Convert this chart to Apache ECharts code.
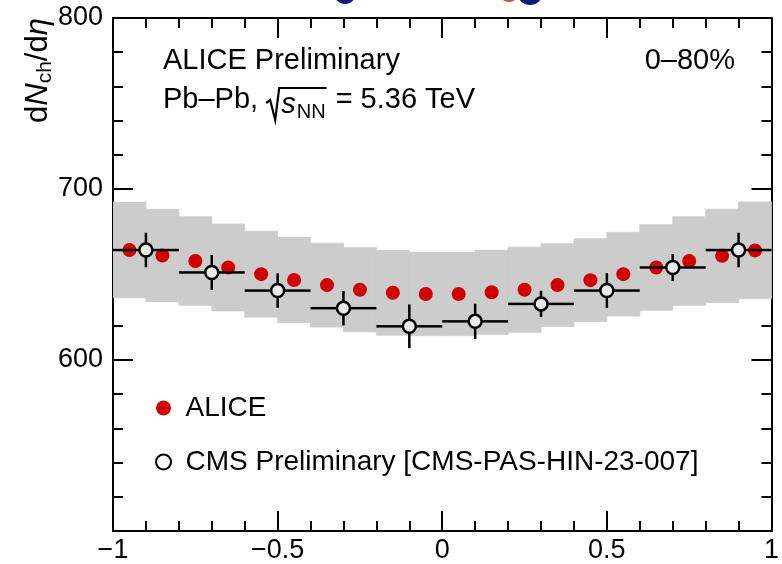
<!DOCTYPE html>
<html>
<head>
<meta charset="utf-8">
<script src="https://cdn.jsdelivr.net/npm/echarts@6/dist/echarts.min.js"></script>
<style>
  html, body { margin: 0; padding: 0; background: #fff; }
  #chart { width: 782px; height: 564px; }
</style>
</head>
<body>
<div id="chart"></div>
<script>
// ALICE dNch/deta in bins of 0.1 in eta, with systematic uncertainty (grey boxes)
const etaAlice = [-0.95, -0.85, -0.75, -0.65, -0.55, -0.45, -0.35, -0.25, -0.15, -0.05,
                   0.05,  0.15,  0.25,  0.35,  0.45,  0.55,  0.65,  0.75,  0.85,  0.95];
const aliceValues = [664.3, 661.1, 657.9, 654.1, 650.2, 646.8, 643.8, 641.1, 639.3, 638.6,
                     638.6, 639.6, 641.1, 643.8, 646.7, 650.2, 654.1, 657.9, 660.9, 664.1];
const aliceSyst = [27.9, 27.0, 25.9, 25.4, 25.1, 24.8, 24.5, 24.6, 24.8, 24.4,
                   24.4, 24.6, 24.9, 24.2, 24.2, 24.5, 25.0, 25.9, 27.3, 28.3];
const aliceHalfBin = 0.05;

// CMS preliminary points in bins of 0.2 in eta, with total errors
const etaCms = [-0.9, -0.7, -0.5, -0.3, -0.1, 0.1, 0.3, 0.5, 0.7, 0.9];
const cmsValues = [664.3, 651.2, 640.6, 630.3, 619.7, 622.6, 632.8, 640.6, 654.1, 664.3];
const cmsErrors = [10.1, 10.2, 10.1, 10.1, 12.8, 10.3, 7.7, 10.2, 7.9, 10.1];
const cmsHalfBin = 0.1;

// axis ranges
const xRange = [-1, 1];
const yRange = [500, 800];

const FONT = '"Liberation Sans", Arial, Helvetica, sans-serif';
const RED = '#d10000';
const BAND = '#cccccc';

const measureCtx = document.createElement('canvas').getContext('2d');
function textWidth(text, size, style) {
  measureCtx.font = (style ? style + ' ' : '') + size + 'px ' + FONT;
  return measureCtx.measureText(text).width;
}

function txt(text, x, y, size, opts) {
  opts = opts || {};
  return {
    type: 'text', x: x, y: y, silent: true,
    style: {
      text: text, fill: '#000', fontSize: size, fontFamily: FONT,
      fontStyle: opts.italic ? 'italic' : 'normal',
      align: opts.align || 'left', textAlign: opts.align || 'left',
      verticalAlign: 'middle', textVerticalAlign: 'middle'
    }
  };
}

// second header line: Pb–Pb, sqrt(s_NN) = 5.36 TeV
function energyLine() {
  const size = 29, sub = 20, yMid = 100;
  const els = [];
  let cx = 163;
  const head = 'Pb\u2013Pb, ';
  els.push(txt(head, cx, yMid, size));
  cx += textWidth(head, size);
  const rx = cx;
  const sW = textWidth('s', size, 'italic');
  const nnW = textWidth('NN', sub);
  const barEnd = rx + 14 + sW + 1 + nnW + 2;
  els.push({
    type: 'polyline', silent: true,
    shape: { points: [[rx, yMid + 3], [rx + 4, yMid], [rx + 9, yMid + 20], [rx + 13, yMid - 12], [barEnd, yMid - 12]] },
    style: { stroke: '#000', lineWidth: 2.2, fill: null }
  });
  cx = rx + 15;
  els.push(txt('s', cx, yMid + 5, size, { italic: true }));
  cx += sW + 1;
  els.push(txt('NN', cx, yMid + 12, sub));
  cx = barEnd + 1;
  els.push(txt(' = 5.36 TeV', cx, yMid, size));
  return els;
}

// rotated y-axis title: dN_ch/d(eta)
function yTitle() {
  const size = 31, sub = 21;
  const parts = [];
  let px = 0;
  const add = (t, s, italic, dy) => {
    parts.push(txt(t, px, dy, s, { italic: italic }));
    px += textWidth(t, s, italic ? 'italic' : '');
  };
  add('d', size, false, 0);
  add('N', size, true, 0);
  add('ch', sub, false, 7);
  add('/d', size, false, 0);
  add('\u03b7', size, true, 0);
  return {
    type: 'group', x: 38, y: 123, rotation: Math.PI / 2, silent: true,
    children: parts
  };
}

const bandData = etaAlice.map((e, i) => [e, aliceValues[i] - aliceSyst[i], aliceValues[i] + aliceSyst[i]]);
const aliceData = etaAlice.map((e, i) => [e, aliceValues[i]]);
const cmsData = etaCms.map((e, i) => [e, cmsValues[i], cmsErrors[i]]);

const CMS_NAME = 'CMS Preliminary [CMS-PAS-HIN-23-007]';

const axisLine = { show: true, onZero: false, lineStyle: { color: '#000', width: 2 } };
const majorTick = { show: true, inside: true, length: 20, lineStyle: { color: '#000', width: 2 } };
const minorTick = { show: true, splitNumber: 5, length: 10, lineStyle: { color: '#000', width: 2 } };

function xAxis(pos, labels) {
  return {
    type: 'value', position: pos, min: xRange[0], max: xRange[1], interval: 0.5,
    axisLine: axisLine, axisTick: majorTick, minorTick: minorTick,
    splitLine: { show: false }, minorSplitLine: { show: false },
    axisLabel: {
      show: labels, fontSize: 27, color: '#000', fontFamily: FONT, margin: 6,
      formatter: v => String(v).replace('-', '\u2212')
    }
  };
}
function yAxis(pos, labels) {
  return {
    type: 'value', position: pos, min: yRange[0], max: yRange[1], interval: 100,
    axisLine: axisLine, axisTick: majorTick, minorTick: minorTick,
    splitLine: { show: false }, minorSplitLine: { show: false },
    axisLabel: {
      show: labels, fontSize: 27, color: '#000', fontFamily: FONT, margin: 10,
      showMinLabel: false
    }
  };
}

const chart = echarts.init(document.getElementById('chart'), null, { renderer: 'canvas' });
chart.setOption({
  animation: false,
  backgroundColor: '#fff',
  grid: { left: 113, right: 5, top: 18, bottom: 28, containLabel: false },
  xAxis: [xAxis('bottom', true), xAxis('top', false)],
  yAxis: [yAxis('left', true), yAxis('right', false)],
  legend: {
    orient: 'vertical', left: 150, top: 389, itemGap: 26,
    itemWidth: 34, itemHeight: 15, selectedMode: false,
    textStyle: { fontSize: 28, color: '#000', fontFamily: FONT },
    data: [
      { name: 'ALICE', icon: 'circle', itemStyle: { color: RED, borderWidth: 0 } },
      { name: CMS_NAME, icon: 'circle', itemStyle: { color: 'rgba(255,255,255,0.6)', borderColor: '#000', borderWidth: 2 } }
    ]
  },
  graphic: [
    // logo edge peeking in at the top
    { type: 'circle', silent: true, shape: { cx: 345, cy: -7, r: 11 }, style: { fill: '#101a78' } },
    { type: 'circle', silent: true, shape: { cx: 509, cy: -9, r: 11 }, style: { fill: '#c85a3c' } },
    { type: 'circle', silent: true, shape: { cx: 530, cy: -8, r: 13 }, style: { fill: '#101a78' } },
    txt('ALICE Preliminary', 163, 61, 29),
    txt('0\u201380%', 735, 61, 29, { align: 'right' }),
    ...energyLine(),
    yTitle()
  ],
  series: [
    {
      name: 'ALICE syst.', type: 'custom', z: 1, clip: true,
      data: bandData, encode: { x: 0, y: [1, 2] },
      renderItem(params, api) {
        const x = api.value(0), lo = api.value(1), hi = api.value(2);
        const p1 = api.coord([x - aliceHalfBin, hi]);
        const p2 = api.coord([x + aliceHalfBin, lo]);
        return {
          type: 'rect',
          shape: { x: p1[0], y: p1[1], width: p2[0] - p1[0], height: p2[1] - p1[1] },
          style: { fill: BAND, stroke: BAND, lineWidth: 0.8 }
        };
      }
    },
    {
      name: 'ALICE', type: 'scatter', z: 3, data: aliceData,
      symbol: 'circle', symbolSize: 14, itemStyle: { color: RED, opacity: 1 }
    },
    {
      name: CMS_NAME, type: 'custom', z: 4, data: cmsData, encode: { x: 0, y: 1 },
      itemStyle: { color: '#000' },
      renderItem(params, api) {
        const x = api.value(0), y = api.value(1), e = api.value(2);
        const c = api.coord([x, y]);
        const l = api.coord([x - cmsHalfBin, y]);
        const r = api.coord([x + cmsHalfBin, y]);
        const t = api.coord([x, y + e]);
        const b = api.coord([x, y - e]);
        const R = 6.5;
        const ls = { stroke: '#000', lineWidth: 2.5 };
        const seg = (x1, y1, x2, y2) => ({ type: 'line', shape: { x1, y1, x2, y2 }, style: ls });
        return {
          type: 'group',
          children: [
            seg(l[0], c[1], c[0] - R, c[1]),
            seg(c[0] + R, c[1], r[0], c[1]),
            seg(c[0], t[1], c[0], c[1] - R),
            seg(c[0], c[1] + R, c[0], b[1]),
            { type: 'circle', shape: { cx: c[0], cy: c[1], r: R }, style: { fill: 'rgba(255,255,255,0.6)', stroke: '#000', lineWidth: 2.5 } }
          ]
        };
      }
    }
  ]
});
</script>
</body>
</html>
